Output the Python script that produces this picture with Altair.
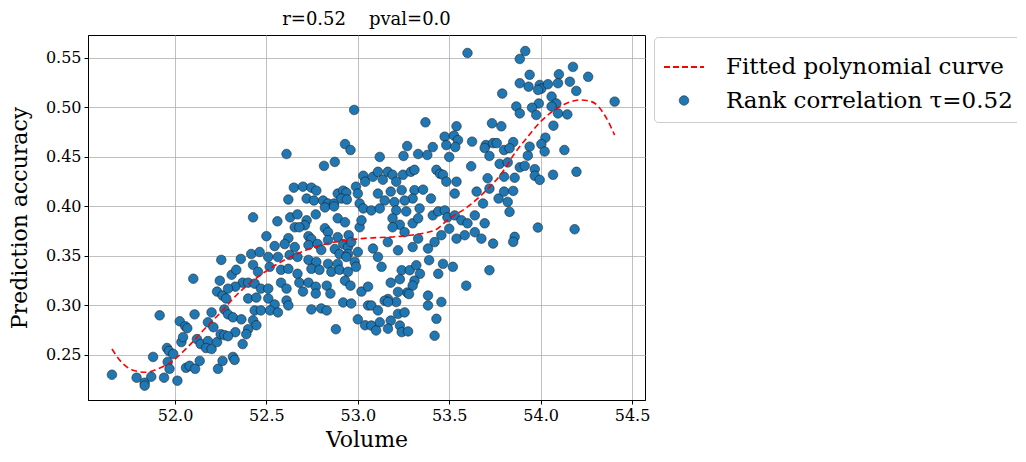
import altair as alt
import pandas as pd

# scatter points (Volume, Prediction accuracy)
points = [
    (51.655,0.230),(51.79,0.227),(51.834,0.222),(51.834,0.219),(51.87,0.228),(51.88,0.248),
    (51.916,0.290),(51.94,0.227),(51.956,0.257),(51.967,0.254),(51.96,0.243),(51.97,0.236),
    (51.99,0.251),(52.013,0.224),(52.026,0.284),(52.056,0.279),(52.067,0.277),(52.035,0.263),
    (52.044,0.268),(52.06,0.237),(52.08,0.239),(52.11,0.236),(52.107,0.291),(52.10,0.327),
    (52.253,0.346),(52.135,0.244),(52.12,0.266),(52.14,0.261),(52.18,0.264),(52.17,0.257),
    (52.20,0.256),(52.23,0.263),(52.235,0.236),(52.26,0.244),(52.23,0.314),(52.26,0.310),
    (52.28,0.307),(52.20,0.293),(52.18,0.283),(52.21,0.278),(52.25,0.271),(52.27,0.270),
    (52.245,0.325),(52.27,0.296),(52.31,0.331),(52.36,0.347),
    (52.815,0.441),(52.874,0.445),(52.61,0.453),(52.65,0.419),(52.70,0.420),(52.746,0.419),
    (52.773,0.416),(52.62,0.407),(52.72,0.408),(52.76,0.406),(52.81,0.406),(52.837,0.403),
    (52.87,0.403),(52.89,0.413),(52.92,0.416),(52.937,0.414),(52.91,0.408),(52.94,0.407),
    (52.99,0.420),(53.0,0.413),(53.03,0.431),(53.04,0.425),(53.01,0.403),(53.03,0.398),
    (52.427,0.389),(52.56,0.385),(52.63,0.389),(52.67,0.392),(52.72,0.386),(52.71,0.381),
    (52.655,0.379),(52.68,0.379),(52.77,0.392),(52.82,0.399),(52.87,0.400),(52.82,0.378),
    (52.837,0.374),(52.89,0.388),(52.93,0.384),(52.95,0.371),(53.01,0.379),(53.02,0.386),
    (52.50,0.370),(52.62,0.368),(52.73,0.370),(52.746,0.367),(52.837,0.366),(52.89,0.369),
    (52.92,0.362),(52.946,0.359),(52.964,0.364),(52.545,0.360),(52.60,0.362),(52.655,0.359),
    (52.73,0.361),(52.78,0.362),(52.80,0.356),(52.874,0.357),(52.90,0.352),(52.946,0.352),
    (53.0,0.354),(52.417,0.352),(52.463,0.354),(52.51,0.349),(52.563,0.349),(52.627,0.351),
    (52.67,0.349),(52.73,0.346),(52.773,0.344),(52.837,0.342),(52.89,0.342),(52.937,0.349),
    (52.983,0.344),(52.335,0.336),(52.427,0.341),(52.454,0.334),(52.518,0.339),(52.58,0.336),
    (52.62,0.337),(52.67,0.332),(52.746,0.337),(52.79,0.336),(52.855,0.334),(52.90,0.336),
    (52.946,0.334),(52.99,0.339),
    (52.98,0.4975),(52.93,0.463),(52.96,0.457),
    (52.37,0.323),(52.33,0.319),(52.29,0.317),(52.40,0.323),(52.436,0.322),(52.47,0.317),
    (52.51,0.317),(52.58,0.323),(52.61,0.317),(52.68,0.323),(52.70,0.314),(52.73,0.323),
    (52.77,0.319),(52.77,0.312),(52.83,0.320),(52.85,0.312),(52.93,0.325),(52.96,0.320),
    (53.02,0.314),(53.056,0.319),(52.40,0.307),(52.445,0.308),(52.51,0.307),(52.545,0.301),
    (52.61,0.305),(52.436,0.295),(52.47,0.295),(52.52,0.295),(52.563,0.293),(52.62,0.300),
    (52.746,0.296),(52.80,0.297),(52.83,0.295),(52.92,0.303),(52.964,0.302),(53.0,0.286),
    (53.04,0.280),(53.056,0.300),(52.88,0.276),(52.29,0.291),(52.317,0.288),(52.363,0.286),
    (52.427,0.285),(52.445,0.280),(52.40,0.276),(52.33,0.273),(52.29,0.269),(52.39,0.271),
    (52.37,0.261),(52.317,0.248),(52.326,0.245),
    (53.60,0.555),(53.79,0.514),(53.37,0.485),(53.54,0.481),(53.475,0.4705),(53.526,0.4715),
    (53.548,0.467),(53.484,0.462),(53.533,0.460),(53.625,0.4655),(53.734,0.484),(53.785,0.481),
    (53.27,0.461),(53.41,0.460),(53.70,0.462),(53.74,0.464),(53.76,0.464),(53.694,0.459),
    (53.80,0.457),(53.12,0.450),(53.25,0.451),(53.33,0.453),(53.38,0.452),(53.50,0.450),
    (53.72,0.451),
    (53.62,0.4406),(53.776,0.443),(53.82,0.4445),(53.083,0.430),(53.11,0.435),(53.137,0.427),
    (53.164,0.435),(53.19,0.432),(53.247,0.432),(53.29,0.435),(53.31,0.437),(53.21,0.425),
    (53.43,0.437),(53.45,0.433),(53.466,0.432),(53.484,0.425),(53.54,0.425),(53.71,0.4285),
    (53.72,0.418),(53.80,0.430),(53.11,0.413),(53.18,0.415),(53.24,0.4165),(53.31,0.4165),
    (53.357,0.417),(53.40,0.408),(53.30,0.408),(53.256,0.406),(53.20,0.4045),(53.147,0.406),
    (53.53,0.413),(53.65,0.415),(53.685,0.403),(53.77,0.408),(53.80,0.415),(53.074,0.396),
    (53.12,0.398),(53.21,0.396),(53.265,0.395),(53.338,0.398),(53.41,0.391),(53.44,0.395),
    (53.476,0.396),(53.49,0.389),(53.53,0.391),(53.567,0.386),(53.60,0.383),(53.64,0.391),
    (53.694,0.383),(53.19,0.388),(53.23,0.3815),(53.30,0.383),(53.33,0.388),(53.19,0.379),
    (53.256,0.374),(53.33,0.3675),(53.42,0.364),(53.457,0.371),(53.50,0.3775),(53.54,0.3675),
    (53.585,0.371),(53.64,0.374),(53.676,0.3675),(53.74,0.3625),(53.384,0.3575),(53.30,0.359),
    (53.22,0.3557),(53.164,0.364),(53.083,0.3575),(53.11,0.349),(53.13,0.339),(53.24,0.3356),
    (53.284,0.3356),(53.32,0.3406),(53.34,0.332),(53.44,0.332),(53.466,0.342),(53.52,0.339),
    (53.39,0.3457),(53.72,0.3356),
    (53.18,0.323),(53.23,0.3265),(53.31,0.325),(53.30,0.320),(53.27,0.313),(53.28,0.3115),
    (53.22,0.3137),(53.165,0.3065),(53.147,0.3048),(53.074,0.300),(53.11,0.295),(53.22,0.2915),
    (53.256,0.293),(53.074,0.2797),(53.12,0.283),(53.18,0.2847),(53.23,0.2797),(53.10,0.2747),
    (53.165,0.2765),(53.24,0.2731),(53.275,0.2738),(53.384,0.310),(53.384,0.300),(53.457,0.3035),
    (53.43,0.2865),(53.42,0.2694),(53.593,0.320),(53.21,0.3035),(53.165,0.3035),
    (53.916,0.557),(53.886,0.549),(54.177,0.541),(54.26,0.531),(54.10,0.5335),(54.16,0.526),
    (53.94,0.533),(53.886,0.5245),(53.934,0.521),(53.995,0.5227),(54.004,0.519),(54.04,0.5235),
    (54.095,0.5245),(54.195,0.5167),(53.986,0.5177),(54.405,0.5059),(54.06,0.511),(54.086,0.504),
    (54.06,0.501),(53.99,0.504),(53.953,0.4998),(53.867,0.501),(53.886,0.494),(53.976,0.4924),
    (54.095,0.494),(54.146,0.493),(54.07,0.4816),(54.026,0.4695),(54.004,0.463),(54.022,0.4555),
    (53.94,0.4604),(53.85,0.465),(53.83,0.4588),(54.13,0.457),(53.93,0.4513),
    (53.886,0.4395),(53.913,0.441),(53.968,0.4377),(53.968,0.431),(53.995,0.4268),(54.068,0.432),
    (54.196,0.435),(53.858,0.429),(53.85,0.4157),(53.83,0.3945),(53.82,0.4046),(53.985,0.3787),
    (54.186,0.377),(53.858,0.3693),(53.85,0.3642),
]
volume = [p[0] for p in points]
accuracy = [p[1] for p in points]

# fitted polynomial curve
curve_x = [51.655, 51.706, 51.78, 51.84, 51.907, 51.98, 52.07, 52.16, 52.25, 52.35, 52.47,
           52.62, 52.80, 53.02, 53.24, 53.42, 53.50, 53.60, 53.694, 53.785, 53.858, 53.93,
           54.0, 54.077, 54.14, 54.214, 54.278, 54.35, 54.405]
curve_y = [0.256, 0.243, 0.234, 0.2325, 0.236, 0.243, 0.258, 0.276, 0.293, 0.313, 0.331,
           0.348, 0.361, 0.3675, 0.370, 0.376, 0.3877, 0.3995, 0.4147, 0.433, 0.4537, 0.4705,
           0.4857, 0.4975, 0.504, 0.5076, 0.5059, 0.4924, 0.472]

x_ticks = [52.0, 52.5, 53.0, 53.5, 54.0, 54.5]
y_ticks = [0.25, 0.30, 0.35, 0.40, 0.45, 0.50, 0.55]

CURVE = "Fitted polynomial curve"
SCAT = "Rank correlation \u03c4=0.52"
DOM = [CURVE, SCAT]
SERIF = "DejaVu Serif"

pts = pd.DataFrame({"Volume": volume, "Accuracy": accuracy, "series": SCAT})
crv = pd.DataFrame({"Volume": curve_x, "Accuracy": curve_y})

xs = alt.Scale(domain=[51.524, 54.571], nice=False, zero=False)
ys = alt.Scale(domain=[0.2045, 0.5732], nice=False, zero=False)

xax = alt.Axis(title="Volume", values=x_ticks, format=".1f", titlePadding=6)
yax = alt.Axis(title="Prediction accuracy", values=y_ticks, format=".2f", titlePadding=14)

scatter = alt.Chart(pts).mark_point(filled=True, opacity=1).encode(
    x=alt.X("Volume:Q", scale=xs, axis=xax),
    y=alt.Y("Accuracy:Q", scale=ys, axis=yax),
    color=alt.Color("series:N", title=None,
                    scale=alt.Scale(domain=DOM, range=["red", "#1f77b4"])),
    shape=alt.Shape("series:N", title=None,
                    scale=alt.Scale(domain=DOM, range=["stroke", "circle"])),
    stroke=alt.Stroke("series:N", title=None,
                      scale=alt.Scale(domain=DOM, range=["red", "#1a1a1a"])),
    strokeDash=alt.StrokeDash("series:N", title=None,
                              scale=alt.Scale(domain=DOM, range=[[6, 3], [1, 0]])),
    size=alt.Size("series:N", title=None,
                  scale=alt.Scale(domain=DOM, range=[1600, 90])),
    strokeWidth=alt.StrokeWidth("series:N", title=None,
                                scale=alt.Scale(domain=DOM, range=[1.8, 0.6])),
)

line = alt.Chart(crv).mark_line(
    color="red", strokeDash=[6, 3.5], strokeWidth=1.6, interpolate="monotone"
).encode(
    x=alt.X("Volume:Q", scale=xs),
    y=alt.Y("Accuracy:Q", scale=ys),
)

chart = alt.layer(scatter, line).properties(
    width=557,
    height=365,
    title=alt.TitleParams("r=0.52\u00a0\u00a0\u00a0\u00a0pval=0.0", font=SERIF, fontSize=18,
                          fontWeight="normal", color="black", offset=6),
    autosize=alt.AutoSizeParams(type="none"),
    padding={"left": 80, "top": 27, "right": 372, "bottom": 54},
).configure_view(
    stroke="black", strokeWidth=1
).configure_axis(
    labelFont=SERIF, labelFontSize=16, labelColor="black",
    titleFont=SERIF, titleFontSize=22, titleFontWeight="normal", titleColor="black",
    gridColor="#b0b0b0", gridWidth=0.8, domainColor="black", tickColor="black",
    tickSize=4, labelPadding=3,
).configure_legend(
    orient="none", legendX=566, legendY=2, padding=9, strokeColor="#cccccc",
    fillColor="white", cornerRadius=4, labelFont=SERIF, labelFontSize=23,
    labelColor="black", rowPadding=10, labelOffset=21, symbolOpacity=1, labelLimit=400,
)

chart.save("out.html", embed_options={"renderer": "svg", "actions": False})
